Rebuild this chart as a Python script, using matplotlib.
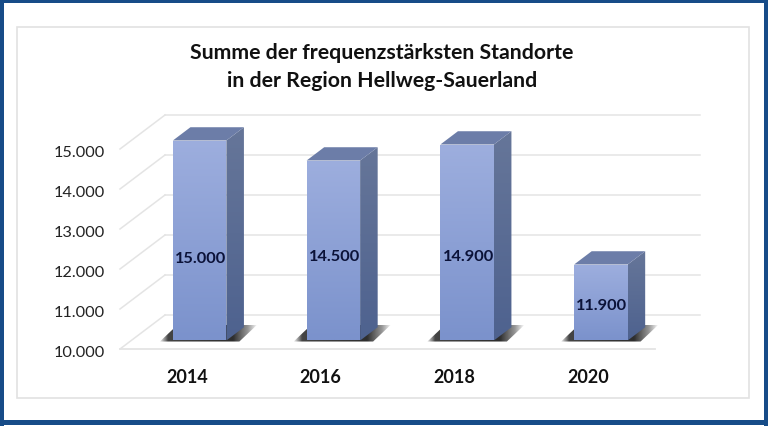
import numpy as np
import matplotlib
matplotlib.use("Agg")
import matplotlib.pyplot as plt
from matplotlib.patches import Polygon, Rectangle
from matplotlib.colors import LinearSegmentedColormap
from matplotlib.transforms import ScaledTranslation

# ---------- data ----------
years = ["2014", "2016", "2018", "2020"]
values = [15000, 14500, 14900, 11900]
value_labels = ["15.000", "14.500", "14.900", "11.900"]
y_ticks = [10000, 11000, 12000, 13000, 14000, 15000]
y_tick_labels = ["10.000", "11.000", "12.000", "13.000", "14.000", "15.000"]
title_lines = ["Summe der frequenzstärksten Standorte", "in der Region Hellweg-Sauerland"]
label_heights = [12275, 12325, 12325, 11100]  # where each label sits on its bar

W, H = 768, 427
FONT = "Lato"
fig = plt.figure(figsize=(W / 100, H / 100), dpi=100, facecolor="white")


def px_rect(x0, y0, x1, y1, **kw):
    fig.add_artist(Rectangle((x0 / W, 1 - y1 / H), (x1 - x0) / W, (y1 - y0) / H,
                             transform=fig.transFigure, **kw))


# page frame
BLUE = "#174C88"
px_rect(0, 0, W, 3.5, fc=BLUE, ec="none")
px_rect(0, 0, 3.5, H, fc=BLUE, ec="none")
px_rect(763.5, 0, W, H, fc=BLUE, ec="none")
px_rect(0, 421, W, 425.5, fc=BLUE, ec="none")
px_rect(16.5, 27.5, 749, 399, fc="none", ec="#E2E2E2", lw=1.2)

# axes: value scale 40 px per 1000, one category 133.75 px
ax = fig.add_axes([120 / W, 1 - 360 / H, 600 / W, 260 / H])
ax.patch.set_alpha(0)
CAT_PX = 133.75
VAL_PX = 0.04
ax.set_xlim(-0.5, -0.5 + 600 / CAT_PX)
ax.set_ylim(10000 - 10 / VAL_PX, 10000 + 250 / VAL_PX)
for s in ax.spines.values():
    s.set_visible(False)

# depth direction: full floor depth is 45 px right, 34 px up
DX = 45 / CAT_PX
DY = 34 / VAL_PX


def proj(x, y, d):
    return x + DX * d, y + DY * d


GRID = "#E4E4E4"
x_l, x_r = -0.5, 3.5
for t in y_ticks:
    p0, p1 = proj(x_l, t, 0), proj(x_l, t, 1)
    ax.plot([p0[0], p1[0]], [p0[1], p1[1]], color=GRID, lw=1.1, clip_on=False, zorder=1)
    p2 = proj(x_r, t, 1)
    ax.plot([p1[0], p2[0]], [p1[1], p2[1]], color=GRID, lw=1.1, clip_on=False, zorder=1)
f0, f1 = proj(x_l, y_ticks[0], 0), proj(x_r, y_ticks[0], 0)
ax.plot([f0[0], f1[0]], [f0[1], f1[1]], color=GRID, lw=1.3, clip_on=False, zorder=1)


def gradient(poly_pts, stops, horizontal, z):
    pts = np.array(poly_pts)
    cmap = LinearSegmentedColormap.from_list("g", stops)
    arr = np.linspace(0, 1, 128)
    arr = arr.reshape(1, -1) if horizontal else arr.reshape(-1, 1)
    im = ax.imshow(arr, cmap=cmap, aspect="auto", origin="upper",
                   extent=[pts[:, 0].min(), pts[:, 0].max(), pts[:, 1].min(), pts[:, 1].max()],
                   interpolation="bilinear", zorder=z)
    clip = Polygon(pts, closed=True, transform=ax.transData, fc="none", ec="none")
    ax.add_patch(clip)
    im.set_clip_path(clip)


BAR_W = 53.5 / CAT_PX
D0, D1 = 0.25, 0.64
SHIFT = 1.5 / CAT_PX
LABEL_SHIFT = 2.5 / CAT_PX
base = y_ticks[0]
SHADOW = [(0.0, "#44444420"), (0.08, "#444444"), (0.75, "#2E2E2E"), (0.9, "#44444490"), (1.0, "#44444400")]
for i, (v, lab, ly) in enumerate(zip(values, value_labels, label_heights)):
    xl, xr = i - 0.5 * BAR_W + SHIFT, i + 0.5 * BAR_W + SHIFT
    # soft shadow on the floor
    sb = proj(0, base, D0 - 0.03)[1]
    st = proj(0, base, D1 + 0.08)[1]
    shadow = [(proj(xl, 0, D0)[0] - 13 / CAT_PX, sb), (proj(xr, 0, D0)[0] + 13 / CAT_PX, sb),
              (proj(xr, 0, D0)[0] + 31 / CAT_PX, st), (proj(xl, 0, D0)[0] + 5 / CAT_PX, st)]
    gradient(shadow, SHADOW, True, 2)
    # side, top, front faces
    gradient([proj(xr, base, D0), proj(xr, base, D1), proj(xr, v, D1), proj(xr, v, D0)],
             ["#667699", "#4E628F"], False, 3)
    ax.add_patch(Polygon([proj(xl, v, D0), proj(xr, v, D0), proj(xr, v, D1), proj(xl, v, D1)],
                         closed=True, fc="#6C7DA8", ec="none", zorder=3))
    gradient([proj(xl, base, D0), proj(xr, base, D0), proj(xr, v, D0), proj(xl, v, D0)],
             ["#9DAEDE", "#7B92CC"], False, 4)
    ax.text(proj(i + LABEL_SHIFT, 0, D0)[0], ly, lab, ha="center", va="center", fontsize=11.8,
            fontweight="bold", family=FONT, color="#0B1238", zorder=5)

ax.set_xticks(range(len(years)), years, fontsize=13, fontweight="bold", family=FONT, color="#111111")
ax.set_yticks(y_ticks, y_tick_labels, fontsize=11.7, family=FONT, color="#222222")
ax.tick_params(axis="both", length=0)
ax.tick_params(axis="x", pad=6.5)
ax.tick_params(axis="y", pad=11)
down = ScaledTranslation(0, -0.8 / 72, fig.dpi_scale_trans)
for lbl in ax.get_yticklabels():
    lbl.set_transform(lbl.get_transform() + down)

for line, py in zip(title_lines, [53, 81]):
    fig.text(382 / W, 1 - py / H, line, ha="center", va="center", fontsize=15.3,
             fontweight="bold", family=FONT, color="#111111")

fig.savefig("out.png", dpi=100)
